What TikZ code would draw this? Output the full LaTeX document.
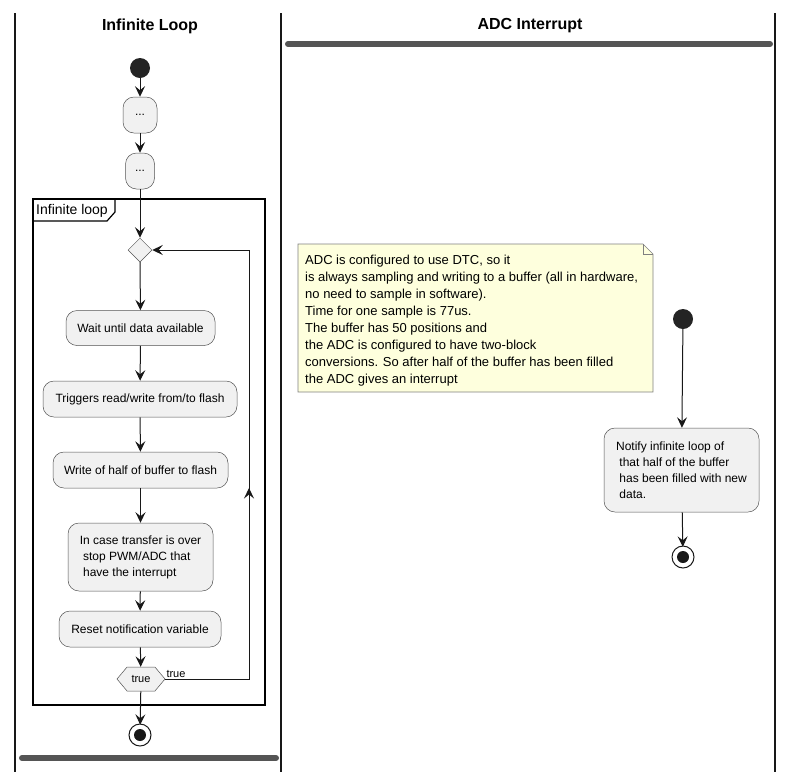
\documentclass[tikz,border=0pt]{standalone}
\usepackage{fontspec}
\setmainfont{Liberation Sans}
\usetikzlibrary{arrows.meta,shapes.geometric,shapes.symbols,positioning}
\definecolor{actfill}{HTML}{F1F1F1}
\definecolor{notefill}{HTML}{FEFFDD}
\definecolor{linecol}{HTML}{181818}
\definecolor{barcol}{HTML}{555555}
\tikzset{
  act/.style={draw=linecol!75,line width=.5pt,fill=actfill,rounded corners=11pt,
    font=\fontsize{12}{16}\selectfont,inner sep=0pt,align=left},
  flow/.style={draw=linecol,line width=1pt,-{Stealth[length=10.5pt,width=10pt,inset=4pt]}},
  startdot/.style={circle,fill=linecol!95,minimum size=20pt,inner sep=0pt},
  enddot/.style={circle,draw=linecol,line width=1pt,fill=white,minimum size=22pt,inner sep=0pt,
    path picture={\fill[linecol] (path picture bounding box.center) circle (6pt);}},
  lane/.style={draw=linecol,line width=1.5pt},
  bar/.style={draw=barcol,line width=6pt,line cap=round},
  lanetitle/.style={font=\fontsize{16}{19}\selectfont\bfseries},
}
\begin{document}
\begin{tikzpicture}[x=1pt,y=-1pt]
\useasboundingbox (0,0) rectangle (794,772);
%swimlanes
\draw[lane] (15,13) -- (15,772);
\draw[lane] (281,13) -- (281,772);
\draw[lane] (775,13) -- (775,772);
\node[lanetitle] (titleloop) at (150,26) {Infinite Loop};
\node[lanetitle] (titleadc) at (530,26) {ADC Interrupt};
\draw[bar] (288,44) -- (770,44);
\draw[bar] (22,758) -- (276,758);
%group frame
\draw[line width=1.5pt] (33,199) rectangle (265,705);
\draw[line width=1.2pt] (33,221) -- (107,221) -- (115,212) -- (115,199);
\node[anchor=west,font=\fontsize{14}{16}\selectfont,inner sep=0pt] (grouplbl) at (36,211) {Infinite loop};
%infinite loop lane
\node[startdot] (start1) at (140,68) {};
\node[act,minimum width=34pt,minimum height=36pt] (dots1) at (140,115) {...};
\node[act,minimum width=29pt,minimum height=36pt] (dots2) at (140,171) {...};
\node[diamond,draw=linecol!75,line width=.5pt,fill=actfill,minimum width=24pt,minimum height=24pt,inner sep=0pt] (loopin) at (140,250) {};
\node[act,minimum width=149pt,minimum height=35pt,align=center] (wait) at (140.5,328) {Wait until data available};
\node[act,minimum width=194pt,minimum height=36pt,align=center] (trig) at (140,399) {Triggers read/write from/to flash};
\node[act,minimum width=175pt,minimum height=36pt,align=center] (write) at (140.5,470) {Write of half of buffer to flash};
\node[act,minimum width=145pt,minimum height=68pt] (incase) at (140.5,557)
  {In case transfer is over\\\hspace*{3.3pt}stop PWM/ADC that\\\hspace*{3.3pt}have the interrupt};
\node[act,minimum width=162pt,minimum height=36pt,align=center] (reset) at (140,629) {Reset notification variable};
\node[signal,signal to=east and west,signal pointer angle=100,draw=linecol!75,line width=.5pt,fill=actfill,
  minimum width=48pt,minimum height=24pt,inner sep=0pt,font=\fontsize{11}{13}\selectfont] (looptest) at (141,679) {true};
\node[startdot,fill=none,circle] (end1) at (140,735) {};
\node[enddot] at (end1) {};
\coordinate (backlow) at (249,679);
\coordinate (backmid) at (249,488);
\coordinate (backtop) at (249,250);
\draw[flow] (start1) -- (dots1);
\draw[flow] (dots1) -- (dots2);
\draw[flow] (dots2) -- (loopin);
\draw[flow] (loopin) -- (wait);
\draw[flow] (wait) -- (trig);
\draw[flow] (trig) -- (write);
\draw[flow] (write) -- (incase);
\draw[flow] (incase) -- (reset);
\draw[flow] (reset) -- (looptest);
\draw[flow] (looptest.east) -- (backlow) -- (backtop) -- (loopin.east);
\draw[flow] (backlow) -- (backmid);
\draw[flow] (looptest) -- (end1);
\node[anchor=south west,font=\fontsize{11}{13}\selectfont,inner sep=1pt] (truelbl) at (looptest.east) {true};
%adc interrupt lane
\draw[draw=linecol!55,line width=.6pt,fill=notefill] (298,244) -- (643,244) -- (653,254) -- (653,392) -- (298,392) -- cycle;
\draw[draw=linecol!55,line width=.6pt] (643,244) -- (643,254) -- (653,254);
\node[anchor=north west,align=left,inner sep=0pt,font=\fontsize{13}{17}\selectfont] (adcnote) at (305,255)
  {ADC is configured to use DTC, so it\\
   is always sampling and writing to a buffer (all in hardware,\\
   no need to sample in software).\\
   Time for one sample is 77us.\\
   The buffer has 50 positions and\\
   the ADC is configured to have two-block\\
   conversions. So after half of the buffer has been filled\\
   the ADC gives an interrupt};
\node[startdot] (start2) at (683,319) {};
\node[act,minimum width=155pt,minimum height=84pt] (notify) at (681.5,470)
  {Notify infinite loop of\\\hspace*{3.3pt}that half of the buffer\\\hspace*{3.3pt}has been filled with new\\\hspace*{3.3pt}data.};
\node[startdot,fill=none] (end2) at (683,557) {};
\node[enddot] at (end2) {};
\draw[flow] (start2) -- (notify);
\draw[flow] (notify) -- (end2);
\end{tikzpicture}
\end{document}
